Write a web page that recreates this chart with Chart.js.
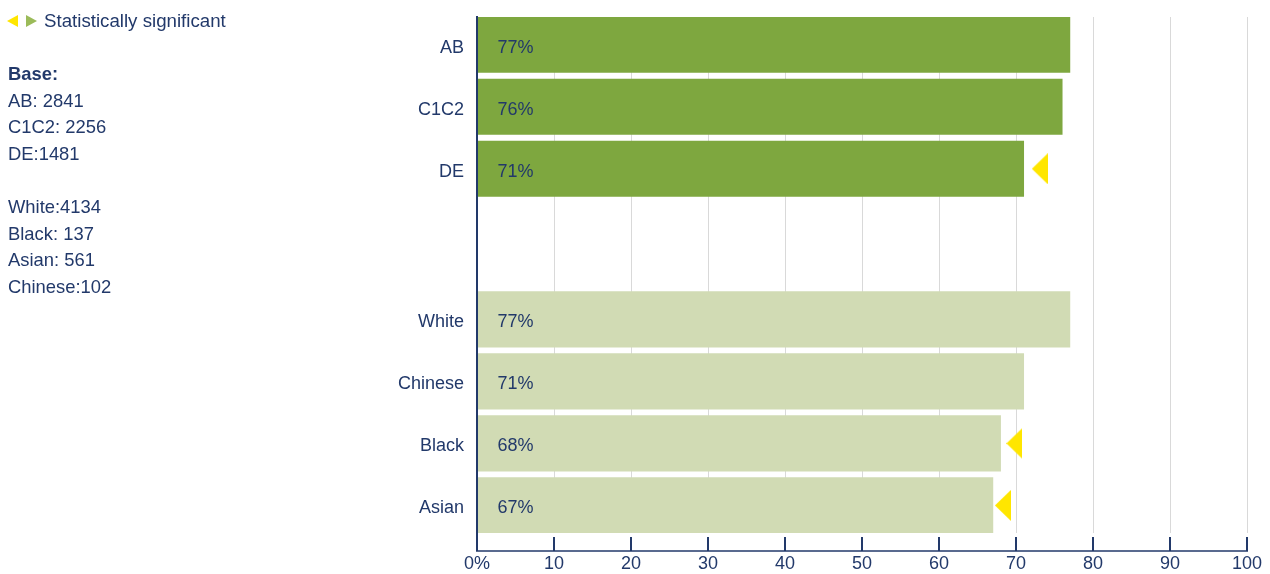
<!DOCTYPE html>
<html>
<head>
<meta charset="utf-8">
<script src="https://cdn.jsdelivr.net/npm/chart.js@4/dist/chart.umd.min.js"></script>
<style>
  html, body { margin: 0; padding: 0; background: #ffffff; }
  body { width: 1270px; height: 574px; position: relative; overflow: hidden;
         font-family: "Liberation Sans", Arial, sans-serif; color: #22396a; }
  #wrap { position: absolute; left: 0; top: 0; width: 1270px; height: 574px; }
  #legend { position: absolute; left: 7px; top: 8px; font-size: 18.7px; line-height: 26.6px; white-space: nowrap; }
  #legend svg { vertical-align: top; margin-top: 7px; }
  #notes { position: absolute; left: 8px; top: 61px; font-size: 18.4px; line-height: 26.6px; white-space: nowrap; }
  #notes .b { font-weight: bold; }
</style>
</head>
<body>
<div id="wrap"><canvas id="c" width="1270" height="574"></canvas></div>
<div id="legend"></div>
<div id="notes"></div>
<script>
// ---- data ----
const categories = ["AB", "C1C2", "DE", "White", "Chinese", "Black", "Asian"];
const groupOf    = [0, 0, 0, 1, 1, 1, 1];
const values     = [77, 76, 71, 77, 71, 68, 67];
// position (on the % axis) of the "statistically significant" markers
const sigMarker  = [null, null, 73.1, null, null, 69.8, 68.3];
const xTicks     = [0, 10, 20, 30, 40, 50, 60, 70, 80, 90, 100];
const legendText = "Statistically significant";
const baseTitle  = "Base:";
const baseLines  = ["AB: 2841", "C1C2: 2256", "DE:1481", "", "White:4134", "Black: 137", "Asian: 561", "Chinese:102"];

// ---- style / layout ----
const NAVY = "#22396a";
const GREEN_DARK = "#7ea73f";
const GREEN_LIGHT = "#d1dbb4";
const YELLOW = "#ffe600";
const GRID = "#d9d9d9";
const GROUP_GAP = 1.43;           // extra space between the two groups (in bar slots)
const FONT = '"Liberation Sans", Arial, sans-serif';

const positions = categories.map((c, i) => i + groupOf[i] * GROUP_GAP);

// HTML side texts
document.getElementById('legend').innerHTML =
  '<svg width="11" height="12"><polygon points="0,6 11,0 11,12" fill="' + YELLOW + '"/></svg>' +
  '<svg width="11" height="12" style="margin-left:8px"><polygon points="0,0 11,6 0,12" fill="#9bbb59"/></svg>' +
  '<span style="margin-left:7px">' + legendText + '</span>';
document.getElementById('notes').innerHTML =
  '<div class="b">' + baseTitle + '</div>' +
  baseLines.map(l => '<div>' + (l || '&nbsp;') + '</div>').join('');

// marker image: left-pointing triangle
const tri = document.createElement('canvas');
tri.width = 16; tri.height = 31;
{
  const t = tri.getContext('2d');
  t.fillStyle = YELLOW;
  t.beginPath(); t.moveTo(0, 15.5); t.lineTo(16, 0); t.lineTo(16, 31); t.closePath(); t.fill();
}

const valueLabels = {
  id: 'valueLabels',
  afterDatasetsDraw(chart) {
    const meta = chart.getDatasetMeta(0);
    const ctx = chart.ctx;
    ctx.save();
    ctx.font = '18px ' + FONT;
    ctx.fillStyle = NAVY;
    ctx.textAlign = 'left';
    ctx.textBaseline = 'middle';
    meta.data.forEach((el, i) => {
      ctx.fillText(values[i] + '%', el.base + 20, el.y + 3);
    });
    ctx.restore();
  }
};

const axisLines = {
  id: 'axisLines',
  afterDraw(chart) {
    const ctx = chart.ctx, a = chart.chartArea, xs = chart.scales.x;
    const axisY = a.bottom + 18;
    ctx.save();
    ctx.strokeStyle = NAVY;
    // tick marks rising from the axis line
    ctx.lineWidth = 2;
    xTicks.forEach(v => {
      const px = Math.round(xs.getPixelForValue(v));
      ctx.beginPath(); ctx.moveTo(px, a.bottom + 4); ctx.lineTo(px, axisY); ctx.stroke();
    });
    // x axis line
    ctx.lineWidth = 1.6;
    ctx.beginPath(); ctx.moveTo(a.left - 1, axisY); ctx.lineTo(a.right + 1, axisY); ctx.stroke();
    // y axis line extension down to x axis
    ctx.lineWidth = 2;
    ctx.beginPath(); ctx.moveTo(a.left, a.top); ctx.lineTo(a.left, axisY); ctx.stroke();
    ctx.restore();
  }
};

new Chart(document.getElementById('c'), {
  type: 'bar',
  data: {
    datasets: [
      {
        type: 'bar',
        indexAxis: 'y',
        data: values.map((v, i) => ({ x: v, y: positions[i] })),
        backgroundColor: groupOf.map(g => g === 0 ? GREEN_DARK : GREEN_LIGHT),
        borderWidth: 0,
        barThickness: 55.5,
        order: 2
      },
      {
        type: 'scatter',
        data: sigMarker.map((m, i) => m === null ? null : ({ x: m, y: positions[i] })).filter(d => d),
        pointStyle: tri,
        pointRadius: 10,
        order: 1
      }
    ]
  },
  options: {
    indexAxis: 'y',
    responsive: false,
    animation: false,
    events: [],
    layout: { padding: { left: 0, right: 23, top: 17, bottom: 0 } },
    plugins: { legend: { display: false }, tooltip: { enabled: false } },
    scales: {
      x: {
        type: 'linear',
        min: 0, max: 100,
        offset: false,
        afterBuildTicks: s => { s.ticks = xTicks.map(v => ({ value: v })); },
        afterFit: s => { s.height = 41; s.paddingLeft = 0; s.paddingRight = 0; },
        ticks: {
          color: NAVY, font: { size: 18, family: FONT }, padding: 20,
          maxRotation: 0, autoSkip: false,
          callback: v => v === 0 ? '0%' : String(v)
        },
        grid: { color: GRID, lineWidth: 1, drawTicks: false },
        border: { display: false }
      },
      y: {
        type: 'linear',
        reverse: true,
        offset: false,
        min: -0.4476, max: 7.875,
        afterBuildTicks: s => { s.ticks = positions.map(v => ({ value: v })); },
        afterFit: s => { s.width = 477; s.paddingTop = 0; s.paddingBottom = 0; },
        ticks: {
          color: NAVY, font: { size: 18, family: FONT }, padding: 13, autoSkip: false,
          labelOffset: 3,
          callback: (v, i) => categories[i]
        },
        grid: { display: false, drawTicks: false },
        border: { display: true, color: NAVY, width: 2 }
      }
    }
  },
  plugins: [valueLabels, axisLines]
});
</script>
</body>
</html>
